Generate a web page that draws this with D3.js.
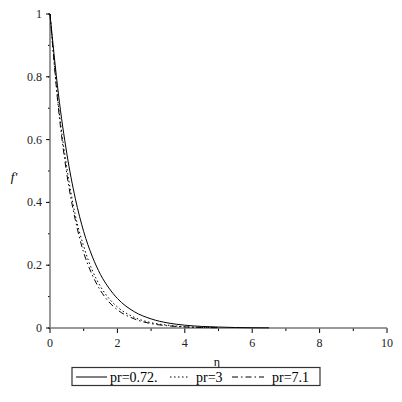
<!DOCTYPE html>
<html><head><meta charset="utf-8">
<script src="https://cdn.jsdelivr.net/npm/d3@7"></script>
<style>body{margin:0;background:#fff}svg{display:block}</style>
</head><body>
<svg id="c" width="402" height="402"></svg>
<script>
const eta = [0,0.25,0.5,0.75,1,1.25,1.5,1.75,2,2.5,3,3.5,4,4.5,5,5.5,6,6.5];
const pr072 = [1,0.745,0.555,0.413,0.307,0.229,0.170,0.127,0.094,0.052,0.029,0.016,0.009,0.005,0.003,0.0015,0.0008,0.0004];
const eta2 = [0,0.25,0.5,0.75,1,1.25,1.5,1.75,2,2.5,3,3.5,4,4.5,5];
const pr3 = [1,0.71,0.51,0.36,0.26,0.185,0.132,0.094,0.067,0.034,0.017,0.009,0.004,0.002,0.001];
const pr71 = [1,0.70,0.49,0.345,0.24,0.17,0.119,0.083,0.058,0.029,0.014,0.007,0.0035,0.0017,0.0008];
const xTicks = [0,2,4,6,8,10];
const yTicks = [0,0.2,0.4,0.6,0.8,1];
const legendLabels = ["pr=0.72.","pr=3","pr=7.1"];

const svg = d3.select("#c");
const x = d3.scaleLinear().domain([0,10]).range([50,387]);
const y = d3.scaleLinear().domain([0,1]).range([328,14]);
const font = "'Liberation Serif','Times New Roman',serif";

// minor ticks
const g = svg.append("g");
d3.range(0,1.0001,0.1).forEach(v=>{
  g.append("line").attr("x1",x(0)-2).attr("x2",x(0)).attr("y1",y(v)).attr("y2",y(v)).attr("stroke","#000");
});
d3.range(0,10.001,1).forEach(v=>{
  g.append("line").attr("x1",x(v)).attr("x2",x(v)).attr("y1",y(0)).attr("y2",y(0)+(v%2===0?5:3)).attr("stroke","#000");
});
yTicks.forEach(v=>{
  g.append("line").attr("x1",x(0)-4).attr("x2",x(0)).attr("y1",y(v)).attr("y2",y(v)).attr("stroke","#000");
  g.append("text").attr("x",x(0)-8).attr("y",y(v)+4).attr("text-anchor","end")
   .attr("font-family",font).attr("font-size",12).attr("fill","#222").text(v===0||v===1?String(v):v.toFixed(1));
});
xTicks.forEach(v=>{
  g.append("text").attr("x",x(v)).attr("y",y(0)+19).attr("text-anchor","middle")
   .attr("font-family",font).attr("font-size",12).attr("fill","#222").text(v);
});
// axis lines
g.append("line").attr("x1",x(0)).attr("x2",x(0)).attr("y1",y(0)).attr("y2",y(1)).attr("stroke","#777").attr("stroke-width",1.5);
g.append("line").attr("x1",x(0)).attr("x2",x(10)).attr("y1",y(0)).attr("y2",y(0)).attr("stroke","#777").attr("stroke-width",1.5);

// axis labels
svg.append("text").attr("x",217).attr("y",366).attr("text-anchor","middle").attr("font-family",font).attr("font-size",12).text("η");
svg.append("text").attr("x",14).attr("y",181).attr("text-anchor","middle").attr("font-family",font).attr("font-style","italic").attr("font-size",13).text("f'");

const line = d3.line().x(d=>x(d[0])).y(d=>y(d[1])).curve(d3.curveMonotoneX);
const series = [
  {xs:eta, ys:pr072, dash:null},
  {xs:eta2, ys:pr3, dash:"1.5,2.5"},
  {xs:eta2, ys:pr71, dash:"6,3,1.5,3"}
];
series.forEach(s=>{
  svg.append("path").datum(s.xs.map((v,i)=>[v,s.ys[i]])).attr("d",line)
    .attr("fill","none").attr("stroke","#000").attr("stroke-width",1)
    .attr("stroke-dasharray",s.dash);
});

// legend
const lg = svg.append("g");
lg.append("rect").attr("x",72).attr("y",367.5).attr("width",248).attr("height",18).attr("fill","#fff").attr("stroke","#333").attr("stroke-width",1.2);
const items = [{x1:76,x2:107,tx:110},{x1:170,x2:190,tx:196},{x1:232,x2:264,tx:272}];
items.forEach((it,i)=>{
  lg.append("line").attr("x1",it.x1).attr("x2",it.x2).attr("y1",377).attr("y2",377).attr("stroke","#000").attr("stroke-dasharray",series[i].dash);
  lg.append("text").attr("x",it.tx).attr("y",382).attr("font-family",font).attr("font-size",14).text(legendLabels[i]);
});
</script>
</body></html>
